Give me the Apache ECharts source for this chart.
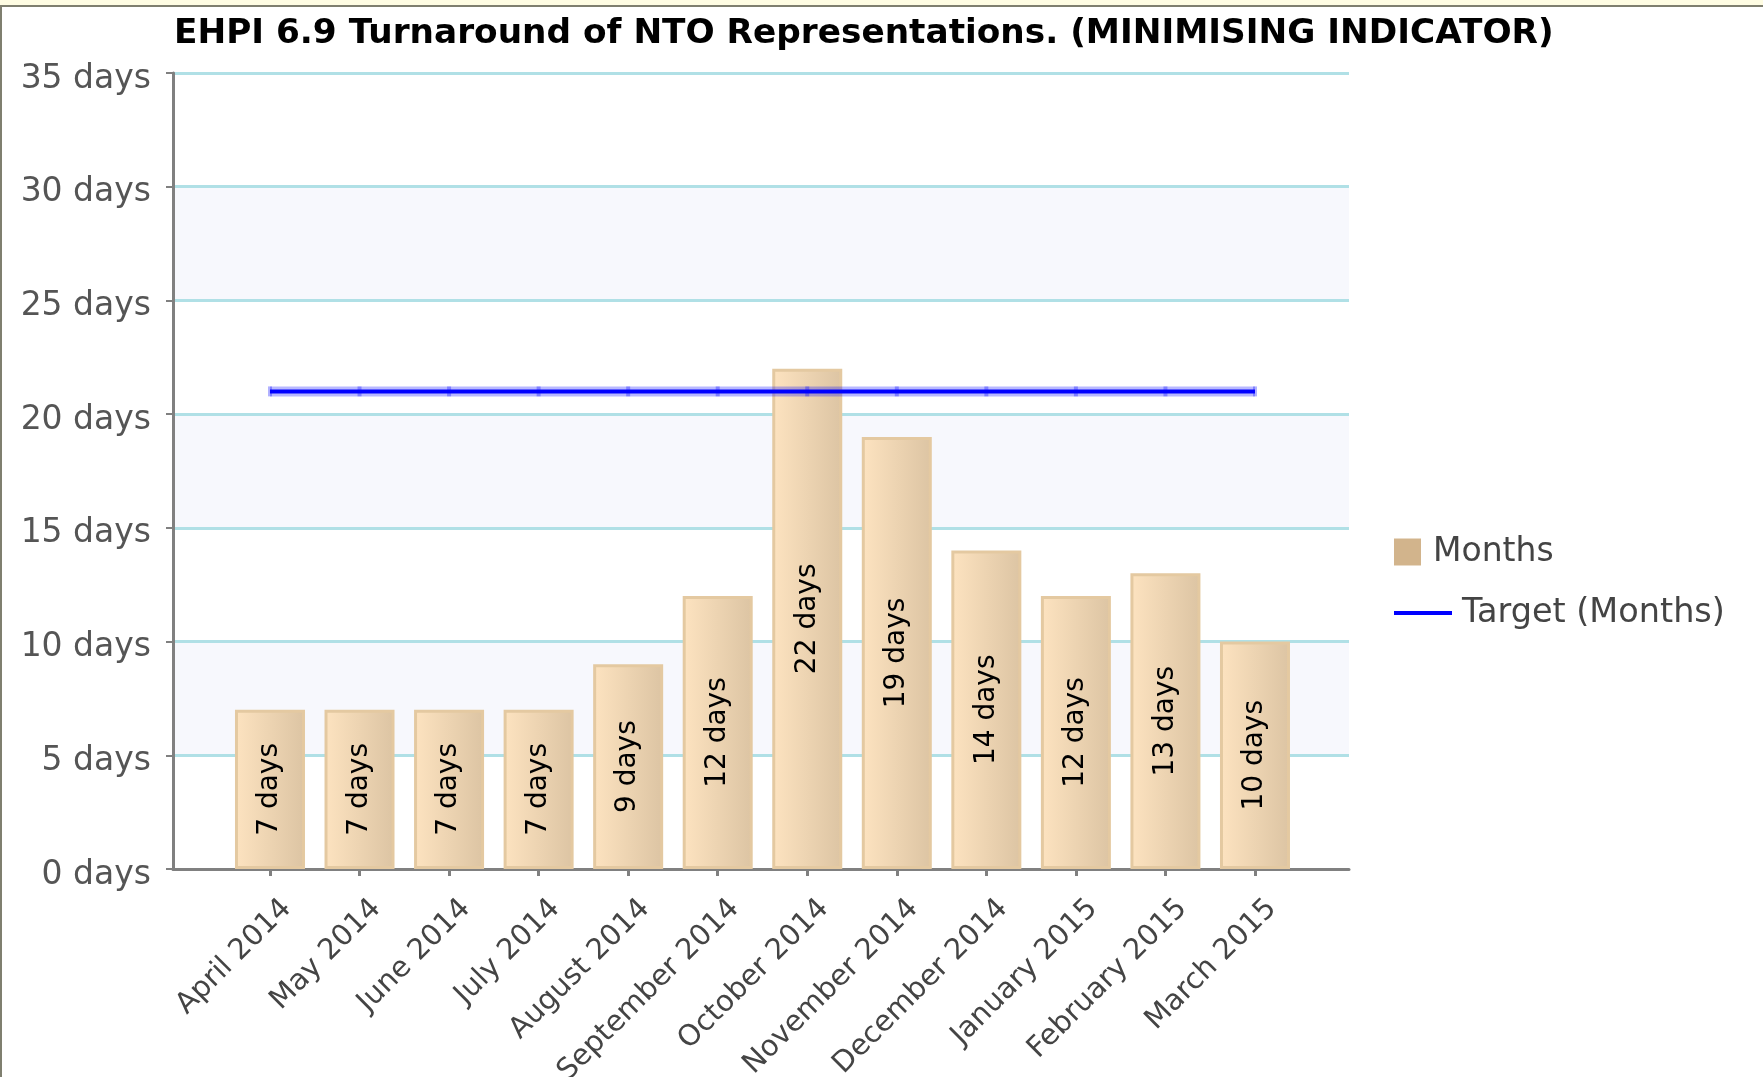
<!DOCTYPE html>
<html>
<head>
<meta charset="utf-8">
<title>EHPI 6.9</title>
<script src="https://cdn.jsdelivr.net/npm/echarts@6/dist/echarts.min.js"></script>
<style>
    html, body { margin: 0; padding: 0; background: #fff; }
    #chart { width: 1763px; height: 1077px; }
</style>
</head>
<body>
<div id="chart"></div>
<script>
    // data
    var months = ['April 2014', 'May 2014', 'June 2014', 'July 2014', 'August 2014', 'September 2014',
        'October 2014', 'November 2014', 'December 2014', 'January 2015', 'February 2015', 'March 2015'];
    var turnaroundDays = [7, 7, 7, 7, 9, 12, 22, 19, 14, 12, 13, 10];
    var targetDays = [21, 21, 21, 21, 21, 21, 21, 21, 21, 21, 21, 21];
    var yTicks = [0, 5, 10, 15, 20, 25, 30, 35];

    var font = 'DejaVu Sans';
    var monthIdx = months.map(function (m, i) { return i; });

    var chart = echarts.init(document.getElementById('chart'));
    chart.setOption({
        animation: false,
        backgroundColor: '#fff',
        graphic: [
            {type: 'rect', shape: {x: 0, y: 0, width: 1763, height: 5}, style: {fill: '#fffde3'}, silent: true},
            {type: 'rect', shape: {x: 0, y: 5, width: 1763, height: 2}, style: {fill: '#7f7f6f'}, silent: true},
            {type: 'rect', shape: {x: 0, y: 5, width: 2, height: 1072}, style: {fill: '#7f7f6f'}, silent: true}
        ],
        title: {
            text: 'EHPI 6.9 Turnaround of NTO Representations. (MINIMISING INDICATOR)',
            left: 174,
            top: 17,
            padding: 0,
            textStyle: {
                fontFamily: font,
                fontWeight: 'bold',
                fontSize: 34.3,
                color: '#000'
            }
        },
        legend: [{
            data: [{name: 'Months', itemStyle: {color: '#d2b48c', borderWidth: 0}}],
            orient: 'vertical',
            left: 1394,
            top: 532,
            padding: 0,
            icon: 'rect',
            itemWidth: 27,
            itemHeight: 27,
            selectedMode: false,
            textStyle: {fontFamily: font, fontSize: 33, color: '#444', lineHeight: 40, padding: [0, 0, 0, 7]}
        }, {
            data: [{name: 'Target (Months)', itemStyle: {color: '#0000ff'}}],
            orient: 'vertical',
            left: 1394,
            top: 593,
            padding: 0,
            icon: 'rect',
            itemWidth: 58,
            itemHeight: 4,
            selectedMode: false,
            textStyle: {fontFamily: font, fontSize: 33.5, color: '#444', lineHeight: 40, padding: [0, 0, 0, 5]}
        }],
        grid: {
            left: 173,
            right: 414,
            top: 73,
            bottom: 208,
            outerBoundsMode: 'none'
        },
        xAxis: {
            type: 'value',
            min: -1.083,
            max: 12.05,
            splitLine: {show: false},
            axisLine: {show: true, onZero: false, lineStyle: {color: '#808080', width: 3}},
            axisTick: {show: true, customValues: monthIdx, length: 7, lineStyle: {color: '#808080', width: 3}},
            axisLabel: {
                customValues: monthIdx,
                rotate: 45,
                margin: 52,
                padding: [0, -24, 0, 0],
                fontFamily: font,
                fontSize: 29,
                color: '#444',
                formatter: function (v) { return months[v]; }
            }
        },
        yAxis: {
            type: 'value',
            min: yTicks[0],
            max: yTicks[yTicks.length - 1],
            interval: 5,
            axisLine: {show: true, onZero: false, lineStyle: {color: '#808080', width: 3}},
            axisTick: {show: true, length: 7, lineStyle: {color: '#808080', width: 2}},
            axisLabel: {
                margin: 22,
                fontFamily: font,
                fontSize: 33,
                color: '#555',
                formatter: function (v) { return '{d|' + v + ' days}'; },
                rich: {
                    d: {fontFamily: font, fontSize: 33, color: '#555', padding: [12, 0, 0, 0]}
                }
            },
            splitLine: {show: true, lineStyle: {color: '#b0e0e6', width: 3}},
            splitArea: {show: true, areaStyle: {color: ['#ffffff', '#f7f8fd']}}
        },
        series: [{
            name: 'Months',
            type: 'bar',
            barWidth: 70,
            data: turnaroundDays.map(function (v, i) { return [i, v]; }),
            itemStyle: {
                color: new echarts.graphic.LinearGradient(0, 0, 1, 0, [
                    {offset: 0, color: '#fde3c0'},
                    {offset: 1, color: '#dcc4a3'}
                ]),
                borderColor: '#e4c9a1',
                borderWidth: 3
            },
            label: {
                show: true,
                position: 'inside',
                rotate: 90,
                fontFamily: font,
                fontSize: 28,
                color: '#000',
                formatter: function (p) { return p.value[1] + ' days'; }
            },
            z: 2
        }, {
            name: 'Target halo',
            type: 'line',
            data: targetDays.map(function (v, i) { return [i, v]; }),
            symbol: 'rect',
            symbolSize: [4, 10],
            itemStyle: {color: 'rgba(0,0,255,0.3)'},
            lineStyle: {color: 'rgba(0,0,255,0.28)', width: 10},
            silent: true,
            z: 3
        }, {
            name: 'Target (Months)',
            type: 'line',
            data: targetDays.map(function (v, i) { return [i, v]; }),
            symbol: 'none',
            itemStyle: {color: '#0000ff'},
            lineStyle: {color: '#0000ff', width: 4},
            z: 4
        }]
    });
</script>
</body>
</html>
